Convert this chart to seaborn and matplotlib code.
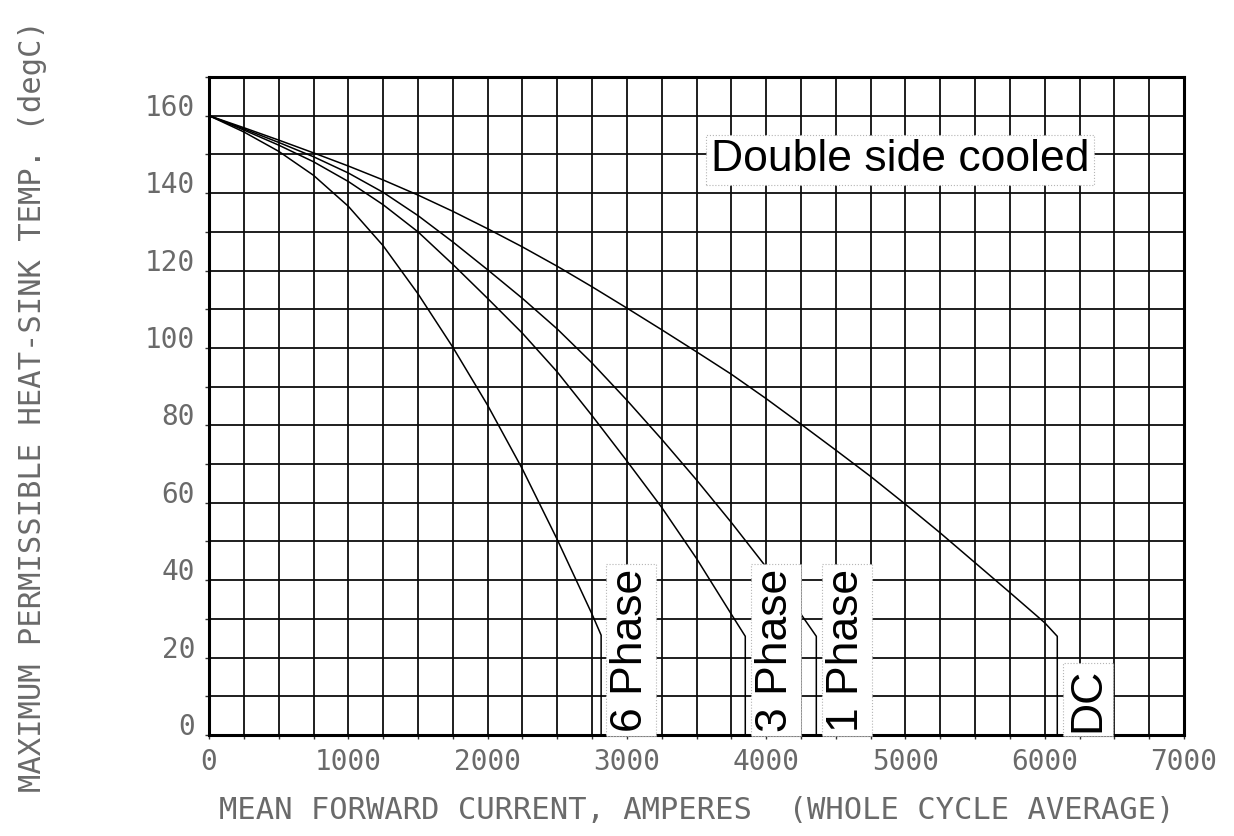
import numpy as np
import pandas as pd
import seaborn as sns
import matplotlib.pyplot as plt
from matplotlib.ticker import MultipleLocator, FuncFormatter

# Derating curves: max heat-sink temperature vs mean forward current
current_6ph = [0, 250, 500, 750, 1000, 1250, 1500, 1750, 2000, 2250, 2500, 2750, 2815, 2815]
temp_6ph = [160, 155.8, 150.8, 144.6, 136.6, 126.4, 114.0, 100.2, 85.2, 68.7, 50.5, 31.2, 25.8, 0]

current_3ph = [0, 250, 500, 750, 1000, 1250, 1500, 1750, 2000, 2250, 2500, 2750, 3000,
               3250, 3500, 3750, 3850, 3850]
temp_3ph = [160, 156.3, 152.4, 148.1, 143.0, 137.0, 130.0, 121.6, 112.8, 103.8, 93.8, 82.5,
            70.8, 58.8, 45.6, 31.2, 25.5, 0]

current_1ph = [0, 250, 500, 750, 1000, 1250, 1500, 1750, 2000, 2250, 2500, 2750, 3000,
               3250, 3500, 3750, 4000, 4250, 4360, 4360]
temp_1ph = [160, 156.6, 153.1, 149.4, 145.2, 140.2, 134.2, 127.4, 120.2, 112.8, 104.9, 96.1,
            86.5, 76.4, 65.9, 54.9, 43.4, 31.2, 25.5, 0]

current_dc = [0, 250, 500, 750, 1000, 1250, 1500, 1750, 2000, 2250, 2500, 2750, 3000, 3250,
              3500, 3750, 4000, 4250, 4500, 4750, 5000, 5250, 5500, 5750, 6000, 6090, 6090]
temp_dc = [160, 156.9, 153.7, 150.4, 147.0, 143.4, 139.5, 135.3, 130.8, 126.1, 121.1, 115.8,
           110.3, 104.7, 99.0, 93.2, 86.9, 80.3, 73.6, 66.8, 59.6, 52.2, 44.5, 36.8, 29.0,
           25.5, 0]

curve_names = ["6 Phase", "3 Phase", "1 Phase", "DC"]
label_x = [3110, 4150, 4660, 6390]
title_text = "Double side cooled"
x_label = "MEAN FORWARD CURRENT, AMPERES  (WHOLE CYCLE AVERAGE)"
y_label = "MAXIMUM PERMISSIBLE HEAT-SINK TEMP. (degC)"

frames = []
for name, xs, ys in zip(curve_names,
                        [current_6ph, current_3ph, current_1ph, current_dc],
                        [temp_6ph, temp_3ph, temp_1ph, temp_dc]):
    frames.append(pd.DataFrame({"current": xs, "temp": ys, "curve": name}))
df = pd.concat(frames, ignore_index=True)

sns.set_theme(style="white")
plt.rcParams["font.family"] = ["DejaVu Sans Mono", "DejaVu Sans"]

fig, ax = plt.subplots(figsize=(12.34, 8.36), dpi=100)
fig.subplots_adjust(left=0.1694, right=0.9595, bottom=0.1208, top=0.9079)

sns.lineplot(data=df, x="current", y="temp", units="curve", estimator=None, sort=False,
             color="black", lw=1.1, ax=ax, zorder=3, legend=False)

ax.set_xlim(0, 7000)
ax.set_ylim(0, 170)
ax.xaxis.set_major_locator(MultipleLocator(1000))
ax.xaxis.set_minor_locator(MultipleLocator(250))
ax.yaxis.set_major_locator(MultipleLocator(20))
ax.yaxis.set_minor_locator(MultipleLocator(10))
ax.xaxis.set_major_formatter(FuncFormatter(lambda v, p: f"{int(v)}"))
ax.yaxis.set_major_formatter(FuncFormatter(lambda v, p: f"{int(v)}"))

ax.grid(which="both", color="#0d0d0d", lw=1.3)
for s in ax.spines.values():
    s.set_visible(True)
    s.set_color("black")
    s.set_linewidth(2.2)

ax.tick_params(which="both", direction="out", length=3, width=1, colors="#333333",
               labelcolor="#6a6a6a", labelsize=20, bottom=True, left=True)
ax.tick_params(axis="x", which="major", pad=6)
ax.tick_params(axis="y", which="major", pad=7)
for lbl in ax.get_yticklabels():
    lbl.set_va("baseline")

ax.set_xlabel(x_label, fontsize=22, color="#6a6a6a")
ax.set_ylabel(y_label, fontsize=22, color="#6a6a6a")
ax.xaxis.set_label_coords(0.5, -0.093)
ax.yaxis.set_label_coords(-0.166, 0.5)

box = dict(boxstyle="square,pad=0.1", fc="white", ec="#b5b5b5", ls=":", lw=0.8)
for name, lx in zip(curve_names, label_x):
    ax.text(lx, 0.8, name, rotation=90, rotation_mode="anchor", ha="left", va="baseline",
            fontsize=32, family="Liberation Sans", color="black", bbox=box, zorder=5)

ax.text(4960, 145.6, title_text, ha="center", va="baseline", fontsize=32,
        family="Liberation Sans", color="black", bbox=box, zorder=5)

fig.savefig("out.png", dpi=100, facecolor="white")
